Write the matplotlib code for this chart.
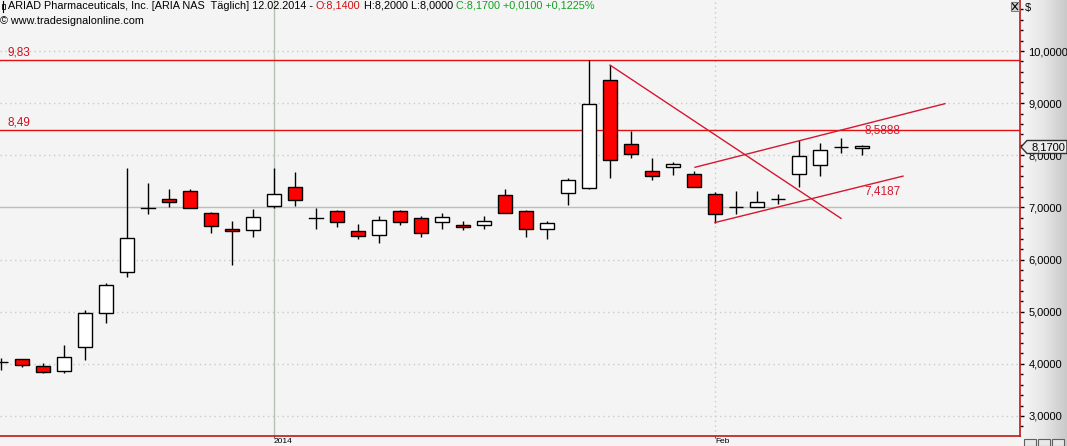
import matplotlib
matplotlib.use("Agg")
import matplotlib.pyplot as plt
import numpy as np
from matplotlib.patches import Rectangle, Polygon
from matplotlib.ticker import FixedLocator, MultipleLocator, FuncFormatter
from matplotlib.colors import LinearSegmentedColormap

# ---------------- data ----------------
opens  = [4.04, 4.09, 3.95, 3.86, 4.32, 4.97, 5.76, 6.98, 7.16, 7.31,
          6.89, 6.59, 6.56, 7.02, 7.39, 6.80, 6.93, 6.54, 6.47, 6.94,
          6.79, 6.72, 6.66, 6.66, 7.23, 6.93, 6.58, 7.27, 7.37, 9.44,
          8.21, 7.69, 7.77, 7.64, 7.25, 7.01, 7.00, 7.17, 7.64, 7.81,
          8.16, 8.14]
highs  = [4.11, 4.09, 4.01, 4.36, 5.03, 5.56, 7.75, 7.46, 7.35, 7.35,
          6.91, 6.74, 6.97, 7.75, 7.68, 6.98, 6.96, 6.68, 6.83, 6.96,
          6.83, 6.89, 6.73, 6.84, 7.36, 6.95, 6.73, 7.56, 9.83, 9.73,
          8.47, 7.94, 7.88, 7.69, 7.29, 7.31, 7.31, 7.25, 8.29, 8.23,
          8.34, 8.20]
lows   = [3.88, 3.93, 3.82, 3.82, 4.08, 4.78, 5.66, 6.87, 7.00, 6.98,
          6.50, 5.90, 6.44, 6.98, 7.02, 6.58, 6.63, 6.39, 6.31, 6.66,
          6.43, 6.58, 6.56, 6.58, 6.89, 6.44, 6.40, 7.04, 7.35, 7.56,
          7.94, 7.53, 7.62, 7.39, 6.70, 6.87, 7.00, 7.06, 7.39, 7.60,
          8.04, 8.00]
closes = [4.03, 3.97, 3.84, 4.14, 4.97, 5.51, 6.41, 6.98, 7.10, 6.98,
          6.64, 6.55, 6.81, 7.26, 7.14, 6.80, 6.72, 6.45, 6.75, 6.72,
          6.50, 6.81, 6.62, 6.73, 6.89, 6.58, 6.70, 7.52, 8.98, 7.90,
          8.02, 7.60, 7.83, 7.39, 6.87, 7.00, 7.10, 7.16, 7.98, 8.11,
          8.15, 8.17]
xtick_idx = [13, 34]
xtick_labels = ["2014", "Feb"]
hlines = [9.83, 8.49]
hline_labels = ["9,83", "8,49"]
trend_down = [(29, 9.73), (40, 6.79)]
trend_up_hi = [(33.05, 7.77), (44.95, 8.99)]
trend_up_lo = [(34.0, 6.71), (42.95, 7.60)]
channel_labels = [("8,5888", 8.47), ("7,4187", 7.30)]
last_price = 8.17
ytick_vals = [3, 4, 5, 6, 7, 8, 9, 10]

# ---------------- figure ----------------
W, H = 1067, 446
plt.rcParams['font.family'] = ['Liberation Sans', 'DejaVu Sans']
fig = plt.figure(figsize=(W / 100, H / 100), dpi=100)
fig.patch.set_facecolor("#f4f4f4")

def fx(x):
    return x / W

def fy(y):
    return 1 - y / H

# right axis gradient background
gax = fig.add_axes([fx(1021), 0, fx(W - 1021), 1], zorder=-1)
grad = np.linspace(0, 1, 64)[None, :]
cm = LinearSegmentedColormap.from_list("g", ["#f6f6f6", "#e6e6e6", "#c9c9c9"])
gax.imshow(grad, aspect="auto", cmap=cm, extent=[0, 1, 0, 1])
gax.set_axis_off()

YB = 436
ax = fig.add_axes([0, fy(YB), fx(1020), YB / H])
ax.set_facecolor("#f4f4f4")
vtop = 10 + 51 / 52.14
vbot = 10 - (YB - 51) / 52.14
ax.set_ylim(vbot, vtop)
ax.set_xlim(-1 / 21, 1019 / 21)

# grid
for v in ytick_vals:
    if v == 7:
        ax.axhline(v, color="#b4c4b4", lw=1, zorder=1)
    else:
        ax.axhline(v, color="#c2cfc2", lw=1, ls=(0, (1, 2.5)), zorder=1)
ax.axvline(xtick_idx[0], color="#b4c4b4", lw=1, zorder=1)
ax.axvline(xtick_idx[1], color="#c2cfc2", lw=1, ls=(0, (1, 2.5)), zorder=1)

# horizontal red lines
for v, lab in zip(hlines, hline_labels):
    ax.axhline(v, color="#e01010", lw=1, zorder=2)
    ax.text(7 / 21, v + 0.025, lab, color="#cc1020", fontsize=8.5,
            va="bottom", ha="left", zorder=5)

# candles
bw = 14 / 21
for i, (o, h, l, c) in enumerate(zip(opens, highs, lows, closes)):
    ax.plot([i, i], [l, h], color="black", lw=1, zorder=3, solid_capstyle="butt")
    bot = min(o, c)
    ht = abs(c - o)
    fc = "#ff0000" if c < o else "white"
    if ht < 1e-9:
        ax.plot([i - bw / 2, i + bw / 2], [o, o], color="black", lw=1, zorder=4)
    else:
        ax.add_patch(Rectangle((i - bw / 2, bot), bw, ht, facecolor=fc,
                               edgecolor="black", lw=1, zorder=4))

# trend lines
for seg in (trend_down, trend_up_hi, trend_up_lo):
    xs = [p[0] for p in seg]
    ys = [p[1] for p in seg]
    ax.plot(xs, ys, color="#d41830", lw=1, zorder=5)
for lab, v in channel_labels:
    ax.text(41.1, v, lab, color="#d41830", fontsize=8.5, va="center",
            ha="left", zorder=6)

# spines
for s in ("top", "left"):
    ax.spines[s].set_visible(False)
for s in ("right", "bottom"):
    ax.spines[s].set_color("#c01818")
    ax.spines[s].set_linewidth(1.2)

# y axis on right
ax.yaxis.tick_right()
ax.yaxis.set_major_locator(FixedLocator(ytick_vals))
ax.yaxis.set_minor_locator(MultipleLocator(0.2))
ax.yaxis.set_major_formatter(FuncFormatter(lambda v, p: f"{v:.4f}".replace(".", ",")))
ax.tick_params(axis="y", which="both", direction="out", length=3, width=1,
               color="black", labelsize=8, pad=3)
ax.tick_params(axis="y", which="minor", length=2)

# x axis
ax.set_xticks(xtick_idx)
ax.set_xticklabels(xtick_labels, ha="left")
ax.tick_params(axis="x", direction="out", length=1.5, color="#606060",
               labelsize=6, pad=0)

# price tag
tag_y = 147
pts = [(1021, tag_y), (1027, tag_y - 6.5), (1067, tag_y - 6.5),
       (1067, tag_y + 6.5), (1027, tag_y + 6.5)]
poly = Polygon([(fx(x), fy(y)) for x, y in pts], closed=True,
               transform=fig.transFigure, facecolor="#ececec",
               edgecolor="#303030", lw=1, zorder=10)
fig.add_artist(poly)
fig.text(fx(1031), fy(tag_y), "8,1700", fontsize=8, va="center", ha="left",
         zorder=11)

# "$" and X button
fig.text(fx(1025), fy(8), "$", fontsize=8, va="center", ha="left")
xb = Rectangle((fx(1011), fy(11)), fx(8), 9 / H, transform=fig.transFigure,
               facecolor="#d4d4d4", edgecolor="#808080", lw=0.8, zorder=10)
fig.add_artist(xb)
fig.add_artist(plt.Line2D([fx(1012.5), fx(1017.5)], [fy(3.5), fy(9.5)],
                          transform=fig.transFigure, color="black", lw=0.8, zorder=11))
fig.add_artist(plt.Line2D([fx(1012.5), fx(1017.5)], [fy(9.5), fy(3.5)],
                          transform=fig.transFigure, color="black", lw=0.8, zorder=11))
# small icons bottom right
for k in range(3):
    x0 = 1024 + k * 14
    fig.add_artist(Rectangle((fx(x0), fy(446)), fx(12), 7 / H,
                             transform=fig.transFigure, facecolor="#e8e8e8",
                             edgecolor="#606060", lw=0.8, zorder=10))

# title with colored segments
fig.canvas.draw()
renderer = fig.canvas.get_renderer()
segments = [
    ("ARIAD Pharmaceuticals, Inc. [ARIA NAS  Täglich] 12.02.2014 - ", "black"),
    ("O:8,1400", "#d01010"),
    (" H:8,2000 L:8,0000 ", "black"),
    ("C:8,1700 +0,0100 +0,1225%", "#10a020"),
]
xpos = 8
for txt, col in segments:
    t = fig.text(fx(xpos), fy(6), txt, color=col, fontsize=7.8, va="center",
                 ha="left", zorder=12)
    bb = t.get_window_extent(renderer)
    xpos += bb.width
fig.text(fx(0), fy(21), "© www.tradesignalonline.com", fontsize=7.8,
         va="center", ha="left", zorder=12)
# tiny candle icon
fig.add_artist(plt.Line2D([fx(3), fx(3)], [fy(1), fy(12)],
                          transform=fig.transFigure, color="black", lw=0.8))
fig.add_artist(Rectangle((fx(1.5), fy(9)), fx(3), 5 / H,
                         transform=fig.transFigure, facecolor="white",
                         edgecolor="black", lw=0.6))

fig.savefig("out.png", dpi=100, facecolor=fig.get_facecolor())
